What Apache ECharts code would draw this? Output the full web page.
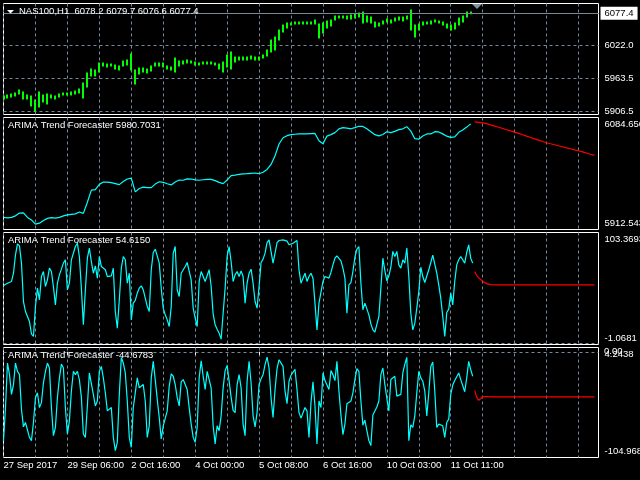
<!DOCTYPE html>
<html>
<head>
<meta charset="utf-8">
<title>NAS100,H1 - ARIMA Trend Forecaster</title>
<script src="https://cdn.jsdelivr.net/npm/echarts@6/dist/echarts.min.js"></script>
<style>
  html, body { margin: 0; padding: 0; background: #000; }
  #chart { width: 640px; height: 480px; }
</style>
</head>
<body>
<div id="chart"></div>
<script>
const symbolName = 'NAS100,H1';
const lastOHLC = [6078.2, 6079.7, 6076.6, 6077.4];
const bidPrice = 6077.4;
const priceTicks = [6077.4, 6022.0, 5963.5, 5906.5];
const timeLabels = ['27 Sep 2017', '29 Sep 06:00', '2 Oct 16:00', '4 Oct 00:00',
                    '5 Oct 08:00', '6 Oct 16:00', '10 Oct 03:00', '11 Oct 11:00'];

const priceHigh = [
  5932.8, 5934.5, 5936.3, 5938.0, 5943.3, 5939.8, 5934.5, 5932.8, 5925.8, 5939.8,
  5934.5, 5936.3, 5934.5, 5932.8, 5936.3, 5938.0, 5938.0, 5939.8, 5941.5, 5945.0,
  5955.5, 5973.0, 5980.0, 5978.3, 5990.5, 5990.5, 5988.8, 5988.8, 5987.0, 5985.3,
  5994.0, 5995.8, 6006.3, 5978.3, 5981.8, 5981.8, 5980.0, 5985.3, 5990.5, 5990.5,
  5990.5, 5985.3, 5983.5, 5999.3, 5994.0, 5994.0, 5995.8, 5994.0, 5992.3, 5990.5,
  5992.3, 5992.3, 5992.3, 5990.5, 5988.8, 5992.3, 6004.5, 6009.8, 6001.0, 6001.0,
  6001.0, 6001.0, 6002.8, 6001.0, 6001.0, 6004.5, 6013.3, 6030.8, 6036.0, 6048.3,
  6057.0, 6060.5, 6060.5, 6062.3, 6062.3, 6062.3, 6062.3, 6062.3, 6065.8, 6058.8,
  6060.5, 6064.0, 6065.8, 6072.8, 6072.8, 6072.8, 6072.8, 6074.5, 6076.3, 6078.0,
  6079.8, 6072.8, 6071.0, 6062.3, 6060.5, 6064.0, 6067.5, 6065.8, 6069.3, 6071.0,
  6071.0, 6072.8, 6083.3, 6057.0, 6058.8, 6062.3, 6062.3, 6064.0, 6065.8, 6064.0,
  6062.3, 6058.8, 6057.0, 6060.5, 6069.3, 6072.8, 6079.8, 6079.7
];
const priceLow = [
  5927.5, 5929.3, 5931.0, 5932.8, 5936.3, 5927.5, 5927.5, 5915.3, 5906.5, 5913.5,
  5922.3, 5918.8, 5929.3, 5927.5, 5931.0, 5934.5, 5934.5, 5934.5, 5936.3, 5938.0,
  5929.3, 5948.5, 5967.8, 5967.8, 5974.8, 5985.3, 5983.5, 5985.3, 5980.0, 5978.3,
  5985.3, 5987.0, 5978.3, 5953.8, 5971.3, 5974.8, 5973.0, 5976.5, 5985.3, 5985.3,
  5983.5, 5980.0, 5978.3, 5974.8, 5985.3, 5988.8, 5990.5, 5990.5, 5987.0, 5987.0,
  5988.8, 5988.8, 5988.8, 5987.0, 5980.0, 5974.8, 5983.5, 5980.0, 5992.3, 5995.8,
  5995.8, 5995.8, 5997.5, 5995.8, 5995.8, 5999.3, 6002.8, 6009.8, 6013.3, 6030.8,
  6044.8, 6051.8, 6057.0, 6058.8, 6058.8, 6058.8, 6058.8, 6058.8, 6058.8, 6034.3,
  6043.0, 6051.8, 6055.3, 6065.8, 6069.3, 6069.3, 6067.5, 6067.5, 6069.3, 6071.0,
  6060.5, 6062.3, 6060.5, 6053.5, 6055.3, 6058.8, 6062.3, 6060.5, 6064.0, 6065.8,
  6064.0, 6067.5, 6048.3, 6036.0, 6048.3, 6057.0, 6058.8, 6058.8, 6062.3, 6060.5,
  6057.0, 6051.8, 6048.3, 6050.0, 6057.0, 6062.3, 6071.0, 6076.6
];

const trendValue = 5980.7031;
const trendMin = 5912.543, trendMax = 6084.656;
const trend = [
  5931.1, 5930.4, 5931.1, 5933.5, 5937.8, 5938.1, 5931.1, 5927.3, 5920.8, 5922.3,
  5926.5, 5929.6, 5930.7, 5930.1, 5931.1, 5933.5, 5935.0, 5935.8, 5936.6, 5939.4,
  5937.3, 5954.4, 5973.0, 5973.8, 5981.9, 5985.4, 5985.4, 5984.6, 5983.1, 5981.5,
  5986.2, 5990.1, 5991.6, 5970.4, 5975.6, 5977.7, 5976.9, 5976.9, 5982.3, 5985.9,
  5985.1, 5982.9, 5981.1, 5985.4, 5988.5, 5988.2, 5990.4, 5990.1, 5988.8, 5988.2,
  5989.0, 5989.6, 5989.6, 5987.7, 5985.0, 5983.1, 5988.5, 5995.2, 5996.0, 5997.4,
  5998.1, 5998.3, 5998.9, 5999.4, 5998.3, 6000.5, 6004.8, 6012.6, 6025.7, 6043.9,
  6053.6, 6056.7, 6058.3, 6058.9, 6059.4, 6059.4, 6059.4, 6059.8, 6060.2, 6049.0,
  6044.3, 6056.0, 6058.3, 6061.4, 6067.1, 6069.1, 6068.4, 6067.3, 6069.1, 6071.2,
  6070.9, 6067.3, 6062.9, 6058.3, 6056.4, 6058.6, 6062.8, 6061.4, 6063.4, 6066.0,
  6067.3, 6070.5, 6063.7, 6052.1, 6051.3, 6056.3, 6059.4, 6059.4, 6062.9, 6062.5,
  6059.5, 6056.0, 6054.1, 6054.9, 6061.9, 6065.3, 6069.9, 6074.9
];
const trendForecast = [
  6078.0, 6077.2, 6076.4, 6075.2, 6073.3, 6071.5, 6069.6, 6067.8, 6065.9, 6064.0,
  6062.2, 6060.2, 6058.1, 6056.0, 6054.0, 6051.9, 6049.8, 6047.8, 6045.9, 6044.3,
  6042.8, 6041.2, 6039.7, 6038.1, 6036.6, 6035.0, 6033.5, 6031.8, 6030.1, 6028.2,
  6026.5
];

const osc1Value = 54.6150;
const osc1Min = -1.0681, osc1Max = 103.3693;
const osc1 = [
  53.9, 54.6, 56.1, 56.7, 57.7, 65.4, 82.5, 92.8, 90.9, 74.8,
  39.0, 29.7, 25.0, 20.4, 8.9, 6.4, 34.4, 51.5, 40.6, 62.3,
  67.0, 53.0, 59.2, 70.1, 67.0, 53.0, 35.9, 56.1, 63.9, 69.2,
  74.8, 77.9, 49.9, 56.1, 77.9, 79.4, 90.3, 93.4, 81.0, 51.5,
  17.3, 49.9, 79.4, 88.8, 76.3, 65.4, 72.3, 60.8, 81.0, 71.7,
  73.2, 68.6, 62.3, 60.8, 63.0, 70.1, 29.7, 14.2, 40.6, 70.1,
  81.0, 77.9, 56.1, 65.4, 21.9, 37.5, 40.0, 46.8, 51.5, 53.6,
  49.9, 42.1, 34.4, 29.7, 68.6, 84.7, 87.8, 81.6, 74.8, 51.5,
  32.8, 26.6, 21.9, 15.7, 34.4, 84.1, 90.3, 49.9, 43.7, 65.4,
  63.9, 71.7, 75.4, 74.8, 59.2, 32.8, 23.5, 15.7, 57.7, 67.0,
  66.1, 57.7, 58.6, 68.6, 53.0, 27.5, 17.3, 13.2, 9.5, 3.9,
  28.1, 51.5, 81.0, 90.3, 76.3, 57.7, 63.9, 67.0, 62.3, 67.6,
  62.3, 37.5, 56.1, 65.4, 69.2, 56.1, 39.0, 32.8, 53.0, 75.4,
  78.5, 84.1, 94.0, 96.5, 95.0, 74.8, 84.1, 94.0, 95.9, 96.5,
  96.5, 96.5, 95.3, 91.9, 91.9, 93.4, 95.0, 95.9, 68.6, 56.1,
  60.8, 65.4, 57.7, 62.3, 65.4, 60.8, 37.5, 12.6, 37.5, 35.9,
  57.7, 62.3, 61.7, 60.8, 66.1, 73.2, 79.4, 81.6, 80.4, 76.9,
  70.1, 60.8, 28.1, 54.6, 56.7, 67.0, 80.4, 87.8, 90.3, 56.1,
  31.3, 37.5, 37.5, 26.6, 18.2, 12.6, 10.4, 11.1, 25.0, 51.5,
  79.4, 67.9, 58.3, 63.0, 71.0, 85.7, 81.0, 85.7, 73.2, 70.1,
  77.9, 74.8, 88.8, 62.3, 28.1, 12.6, 18.8, 32.8, 48.4, 71.0,
  62.3, 56.7, 57.7, 68.6, 75.4, 82.2, 81.0, 65.4, 54.6, 42.1,
  25.0, 6.4, 28.8, 31.9, 46.8, 35.9, 57.7, 73.2, 77.9, 81.0,
  79.4, 74.8, 84.7, 91.9, 79.4, 74.8
];
const osc1Forecast = [
  67.0, 63.3, 61.1, 59.5, 57.9, 56.4, 55.7, 55.0, 54.7, 54.6,
  54.6, 54.6, 54.6, 54.6, 54.6, 54.6, 54.6, 54.6, 54.6, 54.6,
  54.6, 54.6, 54.6, 54.6, 54.6, 54.6, 54.6, 54.6, 54.6, 54.6,
  54.6, 54.6, 54.6, 54.6, 54.6, 54.6, 54.6, 54.6, 54.6, 54.6,
  54.6, 54.6, 54.6, 54.6, 54.6, 54.6, 54.6, 54.6, 54.6, 54.6,
  54.6, 54.6, 54.6, 54.6, 54.6, 54.6, 54.6, 54.6, 54.6, 54.6,
  54.6
];

const osc2Value = -44.6783;
const osc2Min = -104.968, osc2Max = 4.2438;
const osc2 = [
  -88.2, -55.4, -11.2, -22.7, -42.3, -32.5, -11.2, -19.4, -22.7, -57.1,
  -74.5, -70.2, -68.6, -85.0, -88.2, -70.2, -45.6, -40.7, -55.4, -50.5,
  -30.8, -19.4, -11.2, -16.1, -55.4, -83.3, -75.1, -45.6, -25.9, -12.2,
  -16.1, -55.4, -81.7, -68.6, -39.0, -19.4, -22.7, -19.4, -27.6, -45.0,
  -81.7, -85.0, -53.8, -21.0, -22.7, -42.3, -53.8, -48.9, -19.4, -14.5,
  -25.9, -40.7, -58.7, -60.4, -55.4, -85.0, -98.1, -89.9, -42.3, -5.6,
  -11.2, -21.0, -48.9, -85.0, -94.8, -55.4, -53.8, -25.9, -35.8, -34.1,
  -32.5, -48.9, -85.0, -73.5, -25.9, -9.5, -27.6, -47.2, -65.3, -86.6,
  -73.5, -75.1, -58.7, -34.1, -22.0, -24.3, -32.5, -45.6, -53.8, -29.9,
  -27.6, -28.6, -37.4, -55.4, -71.8, -85.0, -89.9, -75.1, -25.9, -8.9,
  -24.3, -37.4, -19.4, -19.4, -35.8, -73.5, -91.5, -73.5, -78.4, -63.6,
  -35.8, -18.7, -13.5, -29.2, -45.0, -58.1, -60.4, -32.5, -22.7, -35.8,
  -71.8, -83.3, -29.2, -9.5, -30.8, -63.6, -74.5, -60.4, -32.5, -26.9,
  -22.7, -12.8, -5.3, -16.1, -45.6, -65.3, -37.4, -16.7, -7.9, -6.9,
  -14.5, -39.0, -51.5, -29.2, -23.3, -22.7, -17.4, -37.4, -60.4, -65.9,
  -66.3, -55.4, -58.7, -85.0, -50.5, -29.9, -53.8, -91.5, -48.9, -55.4,
  -21.0, -28.6, -29.9, -37.4, -18.7, -22.7, -28.6, -9.5, -39.0, -62.7,
  -82.3, -71.8, -51.5, -50.5, -48.9, -40.7, -27.6, -16.7, -19.4, -48.9,
  -72.8, -67.9, -78.4, -88.2, -93.2, -62.7, -62.7, -54.8, -48.9, -22.7,
  -16.1, -32.5, -46.3, -58.7, -27.6, -26.6, -24.3, -44.0, -45.6, -42.3,
  -21.0, -12.2, -5.6, -88.2, -72.5, -75.1, -63.6, -40.7, -19.4, -25.9,
  -29.2, -39.0, -63.6, -40.7, -14.5, -10.2, -39.0, -75.1, -71.8, -73.5,
  -73.5, -85.0, -70.2, -66.9, -42.3, -33.1, -28.6, -29.9, -21.0, -27.6,
  -25.9, -39.7, -25.9, -9.5, -17.7, -24.3
];
const osc2Forecast = [
  -38.4, -45.0, -48.2, -46.9, -44.6, -44.0, -44.6, -44.9, -44.7, -44.7,
  -44.7, -44.7, -44.7, -44.7, -44.7, -44.7, -44.7, -44.7, -44.7, -44.7,
  -44.7, -44.7, -44.7, -44.7, -44.7, -44.7, -44.7, -44.7, -44.7, -44.7,
  -44.7, -44.7, -44.7, -44.7, -44.7, -44.7, -44.7, -44.7, -44.7, -44.7,
  -44.7, -44.7, -44.7, -44.7, -44.7, -44.7, -44.7, -44.7, -44.7, -44.7,
  -44.7, -44.7, -44.7, -44.7, -44.7, -44.7, -44.7, -44.7, -44.7, -44.7,
  -44.7
];

// ---- look ----
const FONT = '"Liberation Sans", Arial, sans-serif';
const FS = 9.5;
const gridColor = '#778899';
const green = '#00ff00';
const cyan = '#00ffff';
const red = '#ff0000';

// two bars per slot in panels 1-2, one bar per slot in panels 3-4
const coarseCats = Array.from({length: 150}, (_, i) => i);
const fineCats = Array.from({length: 299}, (_, i) => i);

const panels = [
  {top: 3.5, height: 111},
  {top: 117.5, height: 112},
  {top: 232.5, height: 112},
  {top: 347.5, height: 110}
];

const pad = (n, arr) => Array(n).fill(null).concat(arr);

const xAxisFor = (gridIndex, cats, step) => ({
  type: 'category',
  gridIndex,
  data: cats,
  boundaryGap: false,
  axisLine: {show: false},
  axisTick: {show: false},
  axisLabel: {show: false},
  splitLine: {
    show: true,
    interval: (i) => i % step === 0,
    lineStyle: {color: gridColor, width: 1, type: [3, 3]}
  }
});

const lineSeries = (name, xi, data, color) => ({
  name, type: 'line', xAxisIndex: xi, yAxisIndex: xi, data,
  showSymbol: false, symbol: 'none', silent: true,
  lineStyle: {color, width: 1.2}, z: 3
});

// dashed indicator level; optionally with its value printed on the price scale
const levelLine = (v, text) => ({
  silent: true, symbol: 'none', animation: false,
  label: text ? {
    show: true, position: 'end', distance: 5.5, formatter: text,
    color: '#fff', fontSize: FS, fontFamily: FONT, padding: [9, 0, 0, 0]
  } : {show: false},
  lineStyle: {color: gridColor, type: [3, 3], width: 1},
  data: [{yAxis: v}]
});

const labelBase = {
  color: '#fff', fontSize: FS, fontFamily: FONT, margin: 2,
  hideOverlap: false, showMinLabel: true, showMaxLabel: true
};

// HL bar: a vertical stroke from low to high at the bar's slot
const renderHL = (params, api) => {
  const lo = api.coord([api.value(0), api.value(1)]);
  const hi = api.coord([api.value(0), api.value(2)]);
  const x = Math.round(lo[0]);
  return {
    type: 'line',
    shape: {x1: x, y1: lo[1] + 0.5, x2: x, y2: hi[1] - 0.5},
    style: {stroke: green, lineWidth: 2}
  };
};

const xTime = xAxisFor(3, fineCats, 16);
xTime.axisTick = {
  show: true, length: 3, interval: (i) => i % 32 === 0 && i / 32 < timeLabels.length,
  lineStyle: {color: '#fff'}
};
xTime.axisLabel = {
  show: true, color: '#fff', fontSize: FS, fontFamily: FONT, margin: 3, align: 'left',
  interval: (i) => i % 32 === 0 && i / 32 < timeLabels.length,
  formatter: (v, i) => timeLabels[i / 32] || ''
};

const option = {
  backgroundColor: '#000',
  animation: false,
  grid: panels.map(p => ({
    left: 3.5, right: 41.5, top: p.top, height: p.height,
    containLabel: false, outerBoundsMode: 'none',
    show: true, backgroundColor: '#000', borderColor: '#fff', borderWidth: 1
  })),
  xAxis: [
    xAxisFor(0, coarseCats, 8),
    xAxisFor(1, coarseCats, 8),
    xAxisFor(2, fineCats, 16),
    xTime
  ],
  yAxis: [
    {
      type: 'value', gridIndex: 0, position: 'right', min: 5900.4, max: 6094.6,
      axisLine: {show: false},
      axisTick: {show: false, customValues: priceTicks},
      splitLine: {show: true, lineStyle: {color: gridColor, width: 1, type: [3, 3]}},
      axisLabel: Object.assign({}, labelBase, {
        customValues: priceTicks,
        formatter: v => Math.abs(v - bidPrice) < 1e-6 ? `{bid|${v.toFixed(1)}}` : `{n|${v.toFixed(1)}}`,
        rich: {
          n: {padding: [0, 0, 0, 4]},
          bid: {backgroundColor: '#fff', color: '#000', padding: [2, 4, 1, 4]}
        }
      })
    },
    {
      type: 'value', gridIndex: 1, position: 'right', min: trendMin, max: trendMax,
      axisLine: {show: false}, axisTick: {show: false}, splitLine: {show: false},
      axisLabel: Object.assign({}, labelBase, {
        customValues: [trendMin, trendMax],
        formatter: v => v === trendMax ? `{t|${v.toFixed(3)}}` : `{b|${v.toFixed(3)}}`,
        rich: {t: {padding: [14, 0, 0, 4]}, b: {padding: [0, 0, 12, 4]}}
      })
    },
    {
      type: 'value', gridIndex: 2, position: 'right', min: osc1Min, max: osc1Max,
      axisLine: {show: false}, axisTick: {show: false}, splitLine: {show: false},
      axisLabel: Object.assign({}, labelBase, {
        customValues: [osc1Min, osc1Max],
        formatter: v => v === osc1Max ? `{t|${v.toFixed(4)}}` : `{b|${v.toFixed(4)}}`,
        rich: {t: {padding: [14, 0, 0, 4]}, b: {padding: [0, 0, 12, 4]}}
      })
    },
    {
      type: 'value', gridIndex: 3, position: 'right', min: osc2Min, max: osc2Max,
      axisLine: {show: false}, axisTick: {show: false}, splitLine: {show: false},
      axisLabel: Object.assign({}, labelBase, {
        customValues: [osc2Min, osc2Max],
        formatter: v => v === osc2Max ? `{t|${v.toFixed(4)}}` : `{b|${v.toFixed(3)}}`,
        rich: {t: {padding: [14, 0, 0, 4]}, b: {padding: [0, 0, 12, 4]}}
      })
    }
  ],
  series: [
    {
      name: symbolName, type: 'custom', xAxisIndex: 0, yAxisIndex: 0,
      data: priceLow.map((lo, i) => [i, lo, priceHigh[i]]),
      encode: {x: 0, y: [1, 2]},
      renderItem: renderHL, silent: true, clip: true,
      markLine: {
        silent: true, symbol: 'none', label: {show: false}, animation: false,
        lineStyle: {color: gridColor, type: 'solid', width: 1},
        data: [{yAxis: bidPrice}]
      }
    },
    lineSeries('ARIMA Trend', 1, trend, cyan),
    lineSeries('ARIMA Trend forecast', 1, pad(trend.length, trendForecast), red),
    Object.assign(lineSeries('ARIMA Osc 1', 2, osc1, cyan), {markLine: levelLine(0)}),
    lineSeries('ARIMA Osc 1 forecast', 2, pad(osc1.length, osc1Forecast), red),
    Object.assign(lineSeries('ARIMA Osc 2', 3, osc2, cyan), {markLine: levelLine(0, '0.00')}),
    lineSeries('ARIMA Osc 2 forecast', 3, pad(osc2.length, osc2Forecast), red)
  ],
  graphic: [
    // chart menu arrow + window titles
    {type: 'polygon', shape: {points: [[7, 10], [14, 10], [10.5, 13.5]]}, style: {fill: '#fff'}, z: 10},
    {type: 'text', left: 19, top: 6.5, z: 10,
     style: {text: `${symbolName}  ${lastOHLC.map(v => v.toFixed(1)).join(' ')}`, fill: '#fff', font: `${FS}px ${FONT}`}},
    {type: 'text', left: 8, top: 120.5, z: 10,
     style: {text: `ARIMA Trend Forecaster ${trendValue.toFixed(4)}`, fill: '#fff', font: `${FS}px ${FONT}`}},
    {type: 'text', left: 8, top: 235.5, z: 10,
     style: {text: `ARIMA Trend Forecaster ${osc1Value.toFixed(4)}`, fill: '#fff', font: `${FS}px ${FONT}`}},
    {type: 'text', left: 8, top: 350.5, z: 10,
     style: {text: `ARIMA Trend Forecaster ${osc2Value.toFixed(4)}`, fill: '#fff', font: `${FS}px ${FONT}`}},
    // chart shift marker
    {type: 'polygon', shape: {points: [[472, 4], [482, 4], [477, 9]]}, style: {fill: '#8593a1'}, z: 10}
  ]
};

const chart = echarts.init(document.getElementById('chart'));
chart.setOption(option);
</script>
</body>
</html>
